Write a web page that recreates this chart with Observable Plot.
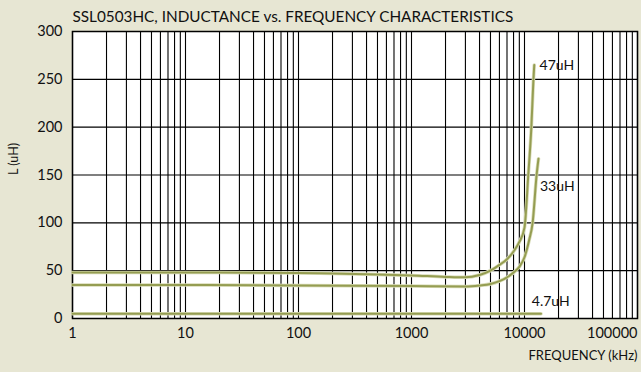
<!DOCTYPE html>
<html><head><meta charset="utf-8">
<script src="https://cdn.jsdelivr.net/npm/d3@7"></script>
<script src="https://cdn.jsdelivr.net/npm/@observablehq/plot@0.6"></script>
<style>
html,body{margin:0;padding:0;background:#e7e6d3;}
#chart svg{display:block;}
</style></head><body><div id="chart"></div>
<script>
const title = "SSL0503HC, INDUCTANCE vs. FREQUENCY CHARACTERISTICS";
const xLabel = "FREQUENCY (kHz)";
const yLabel = "L (uH)";
const xTickLabels = [1, 10, 100, 1000, 10000, 100000];
const yTicks = [0, 50, 100, 150, 200, 250, 300];

const freq47 = [1, 10, 100, 200, 500, 1000, 2000, 3000, 4000, 5000, 6000, 7000, 8000, 9000, 10000, 10800, 11500, 12000, 12200];
const L47    = [48, 48, 47.5, 47, 46, 45, 43.5, 43, 45.5, 50, 56, 62, 70, 80, 95, 150, 200, 250, 265];

const freq33 = [1, 10, 100, 1000, 3000, 4000, 5000, 6000, 7000, 8000, 9000, 10000, 11000, 11800, 12800, 13300];
const L33    = [35, 35, 34.5, 34, 33.5, 34.5, 36, 39, 43, 48, 54, 64, 82, 100, 150, 167];

const freq4_7 = [1, 14000];
const L4_7    = [5, 5];

const seriesNames = ["47uH", "33uH", "4.7uH"];
const labelFreq = [13600, 13700, 11600];
const labelL    = [264, 138, 18];

const rows = [
  ...freq47.map((f, i) => ({s: "47uH", f, L: L47[i]})),
  ...freq33.map((f, i) => ({s: "33uH", f, L: L33[i]})),
  ...freq4_7.map((f, i) => ({s: "4.7uH", f, L: L4_7[i]}))
];
const labels = seriesNames.map((s, i) => ({s, f: labelFreq[i], L: labelL[i]}));

const xGrid = [];
for (let d = 1; d < 100000; d *= 10) for (let k = 1; k <= 9; k++) xGrid.push(d * k);
xGrid.push(100000);

const chart = Plot.plot({
  width: 641,
  height: 372,
  marginLeft: 72,
  marginRight: 4,
  marginTop: 31,
  marginBottom: 54,
  style: {background: "transparent", fontFamily: "Lato, 'Open Sans', sans-serif", color: "#111"},
  x: {type: "log", domain: [1, 100000]},
  y: {domain: [0, 300]},
  marks: [
    Plot.frame({fill: "white"}),
    Plot.ruleX(xGrid, {stroke: "#000", strokeWidth: 1.1}),
    Plot.ruleY(yTicks, {stroke: "#000", strokeWidth: 1.1}),
    Plot.frame({stroke: "#000", strokeWidth: 1.5}),
    Plot.line(rows, {x: "f", y: "L", z: "s", stroke: "#d9dcb8", strokeWidth: 3.5, curve: "monotone-x"}),
    Plot.line(rows, {x: "f", y: "L", z: "s", stroke: "#959d52", strokeWidth: 2, curve: "monotone-x"}),
    Plot.text(labels, {x: "f", y: "L", text: "s", textAnchor: "start", fontSize: 14, fill: "#111"}),
    Plot.axisY(yTicks, {tickSize: 0, tickPadding: 10, fontSize: 14.5, label: null}),
    Plot.axisX(xTickLabels.slice(0, 5), {tickSize: 0, tickPadding: 9, fontSize: 14.5, label: null, tickFormat: d => String(d)}),
    Plot.axisX(xTickLabels.slice(5), {tickSize: 0, tickPadding: 9, fontSize: 14.5, label: null, textAnchor: "end", tickFormat: d => String(d)}),
    Plot.text([title], {frameAnchor: "top-left", dy: -20, textAnchor: "start", fontSize: 15.3, fill: "#111"}),
    Plot.text([xLabel], {frameAnchor: "bottom-right", dy: 41, textAnchor: "end", fontSize: 13, fill: "#111"}),
    Plot.text([yLabel], {frameAnchor: "left", dx: -59, rotate: -90, fontSize: 12.5, fill: "#111"})
  ]
});
document.getElementById("chart").appendChild(chart);
</script>
</body></html>
